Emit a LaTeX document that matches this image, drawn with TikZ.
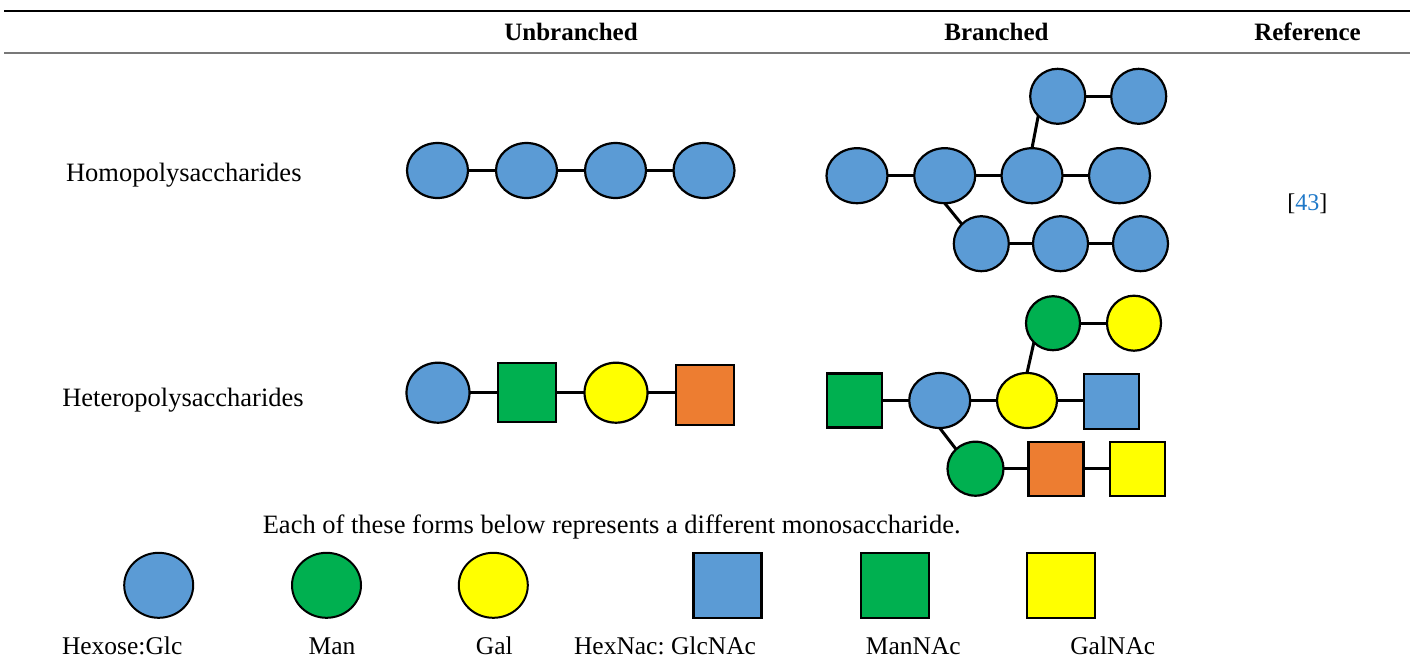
\documentclass[tikz,border=0pt]{standalone}
\usepackage{fontspec}
\setmainfont{Liberation Serif}
\usetikzlibrary{shapes.geometric}
\definecolor{sblue}{HTML}{5B9BD5}
\definecolor{sgreen}{HTML}{00B050}
\definecolor{syellow}{HTML}{FFFF00}
\definecolor{sorange}{HTML}{ED7D31}
\definecolor{linkblue}{RGB}{30,120,200}
\definecolor{rulegray}{RGB}{120,120,120}
\frenchspacing
\tikzset{
  sugar/.style={draw=black, line width=2.2pt, inner sep=0pt, outer sep=0pt},
  hexo/.style={sugar, ellipse},
  sqr/.style={sugar, rectangle},
  bond/.style={line width=3pt, black},
  lab/.style={anchor=base, inner sep=0pt, font=\fontsize{26.5}{30}\selectfont},
  head/.style={anchor=base, inner sep=0pt, font=\fontsize{25}{30}\selectfont\bfseries},
  leg/.style={anchor=base, inner sep=0pt, font=\fontsize{25.5}{30}\selectfont},
}
\begin{document}
\begin{tikzpicture}[x=1pt,y=1pt]
\useasboundingbox (0,0) rectangle (1410,-664);
% rules
\draw[line width=2.5pt] (4,-11) -- (1410,-11);
\draw[rulegray, line width=2pt] (4,-53) -- (1410,-53);
% headers
\node[head] (hU) at (571,-40.5) {Unbranched};
\node[head] (hB) at (996.5,-40.5) {Branched};
\node[head] (hR) at (1307.5,-40.5) {Reference};
% row labels
\node[lab] (rHomo) at (183.8,-181.7) {Homopolysaccharides};
\node[lab] (rHetero) at (183,-406.7) {Heteropolysaccharides};
\node[anchor=base, inner sep=0pt, font=\fontsize{24}{30}\selectfont] (ref) at (1307.3,-210.5) {[\textcolor{linkblue}{43}]};
% unbranched homo
\node[hexo, fill=sblue, minimum width=61pt, minimum height=55pt] (U1) at (437.5,-170.5) {};
\node[hexo, fill=sblue, minimum width=61pt, minimum height=55pt] (U2) at (526.5,-170.5) {};
\node[hexo, fill=sblue, minimum width=61pt, minimum height=55pt] (U3) at (615.5,-170.5) {};
\node[hexo, fill=sblue, minimum width=61pt, minimum height=55pt] (U4) at (704,-170.5) {};
\draw[bond] (U1) -- (U2);
\draw[bond] (U2) -- (U3);
\draw[bond] (U3) -- (U4);
% unbranched hetero
\node[hexo, fill=sblue, minimum width=63pt, minimum height=60pt] (V1) at (438,-392.7) {};
\node[sqr, fill=sgreen, minimum width=58pt, minimum height=59pt] (V2) at (526.7,-392.7) {};
\node[hexo, fill=syellow, minimum width=63pt, minimum height=60pt] (V3) at (616,-392.7) {};
\node[sqr, fill=sorange, minimum width=58pt, minimum height=60pt] (V4) at (705,-395) {};
\draw[bond] (V1) -- (V2);
\draw[bond] (V2) -- (V3);
\draw[bond] (V3.east) -- (V4.west |- V3.east);
% branched homo
\node[hexo, fill=sblue, minimum width=61pt, minimum height=55pt] (A) at (857,-175.7) {};
\node[hexo, fill=sblue, minimum width=61pt, minimum height=55pt] (B) at (944.7,-175.7) {};
\node[hexo, fill=sblue, minimum width=61pt, minimum height=55pt] (C) at (1032,-175.7) {};
\node[hexo, fill=sblue, minimum width=61pt, minimum height=55pt] (D) at (1119.5,-175.7) {};
\node[hexo, fill=sblue, minimum width=55pt, minimum height=55pt] (E) at (1057.7,-96.3) {};
\node[hexo, fill=sblue, minimum width=55pt, minimum height=55pt] (F) at (1138.7,-96.3) {};
\node[hexo, fill=sblue, minimum width=55pt, minimum height=55pt] (G) at (981.3,-243.7) {};
\node[hexo, fill=sblue, minimum width=55pt, minimum height=55pt] (H) at (1060.5,-243.7) {};
\node[hexo, fill=sblue, minimum width=55pt, minimum height=55pt] (I) at (1140.5,-243.7) {};
\draw[bond] (A) -- (B);
\draw[bond] (B) -- (C);
\draw[bond] (C) -- (D);
\draw[bond] (E) -- (F);
\draw[bond] (G) -- (H);
\draw[bond] (H) -- (I);
\draw[bond] (C.north) -- (E.225);
\draw[bond] (B.south) -- (G.135);
% branched hetero
\node[sqr, fill=sgreen, minimum width=55pt, minimum height=54pt] (S1) at (854.3,-400.5) {};
\node[hexo, fill=sblue, minimum width=61pt, minimum height=55pt] (B2) at (939.7,-400.5) {};
\node[hexo, fill=syellow, minimum width=60pt, minimum height=55pt] (Y2) at (1027,-400.5) {};
\node[sqr, fill=sblue, minimum width=55pt, minimum height=55pt] (Q) at (1111.7,-401.5) {};
\node[hexo, fill=sgreen, minimum width=54pt, minimum height=54pt] (T1) at (1053,-323.2) {};
\node[hexo, fill=syellow, minimum width=54pt, minimum height=55pt] (T2) at (1134,-323.2) {};
\node[hexo, fill=sgreen, minimum width=56pt, minimum height=54pt] (L1) at (975.5,-468.7) {};
\node[sqr, fill=sorange, minimum width=55pt, minimum height=54pt] (L2) at (1056,-468.7) {};
\node[sqr, fill=syellow, minimum width=55pt, minimum height=54pt] (L3) at (1137.7,-468.7) {};
\draw[bond] (S1) -- (B2);
\draw[bond] (B2) -- (Y2);
\draw[bond] (Y2.east) -- (Q.west |- Y2.east);
\draw[bond] (T1) -- (T2);
\draw[bond] (L1) -- (L2);
\draw[bond] (L2) -- (L3);
\draw[bond] (Y2.north) -- (T1.225);
\draw[bond] (B2.south) -- (L1.135);
% legend
\node[lab] (legT) at (611.7,-533.3) {Each of these forms below represents a different monosaccharide.};
\node[hexo, line width=2pt, fill=sblue, minimum width=69pt, minimum height=65pt] (LG1) at (158.7,-585.3) {};
\node[hexo, line width=2pt, fill=sgreen, minimum width=69pt, minimum height=65pt] (LG2) at (326.5,-585.3) {};
\node[hexo, line width=2pt, fill=syellow, minimum width=69pt, minimum height=65pt] (LG3) at (493.3,-585.3) {};
\node[sqr, fill=sblue, minimum width=68pt, minimum height=65pt] (LG4) at (727.5,-585.7) {};
\node[sqr, fill=sgreen, minimum width=68pt, minimum height=65pt] (LG5) at (895,-585.7) {};
\node[sqr, fill=syellow, minimum width=68pt, minimum height=65pt] (LG6) at (1061.3,-585.7) {};
\node[leg] (l1) at (122.2,-654) {Hexose:Glc};
\node[leg] (l2) at (332,-654) {Man};
\node[leg] (l3) at (494.3,-654) {Gal};
\node[leg] (l4) at (665,-654) {HexNac: GlcNAc};
\node[leg] (l5) at (913.3,-654) {ManNAc};
\node[leg] (l6) at (1112.8,-654) {GalNAc};
\end{tikzpicture}
\end{document}
